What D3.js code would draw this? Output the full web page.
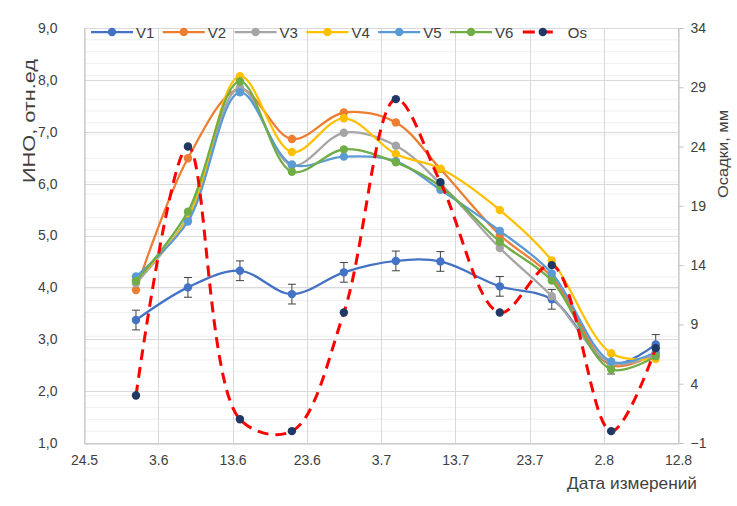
<!DOCTYPE html>
<html><head><meta charset="utf-8">
<script src="https://cdn.jsdelivr.net/npm/d3@7/dist/d3.min.js"></script>
<style>
body{margin:0;background:#fff}
svg{display:block}
text{font-family:"Liberation Sans",Arial,sans-serif;fill:#404040}
</style>
</head><body>
<svg id="chart" width="737" height="506"></svg>
<script>
// ---- data ----
const dates = ["2021-05-31","2021-06-07","2021-06-14","2021-06-21","2021-06-28","2021-07-05","2021-07-11","2021-07-19","2021-07-26","2021-08-03","2021-08-09"];
const seriesNames = ["V1","V2","V3","V4","V5","V6"];
const v1 = [3.37, 4.00, 4.32, 3.87, 4.29, 4.51, 4.50, 4.02, 3.77, 2.52, 2.90];
const v1Err = [0.19, 0.19, 0.19, 0.19, 0.19, 0.19, 0.19, 0.19, 0.19, 0.19, 0.19];
const v2 = [3.95, 6.49, 7.82, 6.86, 7.37, 7.18, 6.28, 5.01, 4.20, 2.50, 2.72];
const v3 = [4.08, 5.36, 7.85, 6.35, 6.98, 6.73, 6.00, 4.76, 3.83, 2.54, 2.70];
const v4 = [4.15, 5.33, 8.07, 6.61, 7.26, 6.57, 6.29, 5.49, 4.52, 2.73, 2.62];
const v5 = [4.21, 5.27, 7.76, 6.37, 6.52, 6.43, 5.88, 5.09, 4.27, 2.57, 2.75];
const v6 = [4.12, 5.46, 7.97, 6.23, 6.66, 6.41, 5.95, 4.88, 4.13, 2.42, 2.67];
const osName = "Os";
const os = [3, 24, 1, 0, 10, 28, 21, 10, 14, 0, 7];
const xTickLabels = ["24.5","3.6","13.6","23.6","3.7","13.7","23.7","2.8","12.8"];
const leftTicks = [1,2,3,4,5,6,7,8,9];
const rightTicks = [-1,4,9,14,19,24,29,34];
const colors = ["#4472C4","#ED7D31","#A5A5A5","#FFC000","#5B9BD5","#70AD47"];
const osLineColor = "#FF0000", osMarkColor = "#203864";

// ---- layout ----
const L = 84, R = 678, T = 28, B = 443;
const svg = d3.select("#chart");
const parse = d3.utcParse("%Y-%m-%d");
const start = parse("2021-05-24");
const xTicks = xTickLabels.map((_, i) => d3.utcDay.offset(start, 10 * i));
const x = d3.scaleUtc().domain([xTicks[0], xTicks[xTicks.length - 1]]).range([L, R]);
const y = d3.scaleLinear().domain([1, 9]).range([B, T]);
const y2 = d3.scaleLinear().domain([-1, 34]).range([B, T]);

// minor gridlines (right axis minor unit = 1)
const minor = d3.range(-1, 34.01, 1).filter(v => (v + 1) % 5 !== 0);
svg.append("g").selectAll("line").data(minor).join("line")
  .attr("x1", L).attr("x2", R).attr("y1", d => y2(d)).attr("y2", d => y2(d))
  .attr("stroke", "#EFEFEF").attr("stroke-width", 1);
// major gridlines
svg.append("g").selectAll("line").data(leftTicks).join("line")
  .attr("x1", L).attr("x2", R).attr("y1", d => Math.round(y(d)) + 0.5).attr("y2", d => Math.round(y(d)) + 0.5)
  .attr("stroke", "#D9D9D9").attr("stroke-width", 1);
svg.append("g").selectAll("line").data(xTicks).join("line")
  .attr("y1", T).attr("y2", B).attr("x1", d => Math.round(x(d)) + 0.5).attr("x2", d => Math.round(x(d)) + 0.5)
  .attr("stroke", "#D9D9D9").attr("stroke-width", 1);

// axes
const fmtComma = d => d3.format(".1f")(d).replace(".", ",");
const gl = svg.append("g").attr("transform", `translate(${L + 0.5},0)`)
  .call(d3.axisLeft(y).tickValues(leftTicks).tickFormat(fmtComma).tickSize(0).tickPadding(27));
gl.select(".domain").attr("stroke", "#BFBFBF");
const gr = svg.append("g").attr("transform", `translate(${R + 0.5},0)`)
  .call(d3.axisRight(y2).tickValues(rightTicks).tickSize(5).tickPadding(7));
gr.select(".domain").attr("stroke", "#BFBFBF");
gr.selectAll(".tick line").attr("stroke", "#BFBFBF");
const gb = svg.append("g").attr("transform", `translate(0,${B + 0.5})`)
  .call(d3.axisBottom(x).tickValues(xTicks).tickFormat((d, i) => xTickLabels[i]).tickSize(0).tickPadding(12));
gb.select(".domain").attr("stroke", "#BFBFBF");
[gl, gr, gb].forEach(g => g.selectAll("text").attr("font-size", 14).attr("fill", "#404040")
  .attr("font-family", '"Liberation Sans",Arial,sans-serif'));

// axis titles
svg.append("text").attr("transform", `translate(29,121) rotate(-90)`)
  .attr("text-anchor", "middle").attr("dominant-baseline", "central").attr("font-size", 16)
  .attr("textLength", 124).attr("lengthAdjust", "spacingAndGlyphs")
  .text("ИНО, отн.ед");
svg.append("text").attr("transform", `translate(722,154) rotate(-90)`)
  .attr("text-anchor", "middle").attr("dominant-baseline", "central").attr("font-size", 15)
  .attr("textLength", 88).attr("lengthAdjust", "spacingAndGlyphs")
  .text("Осадки, мм");
svg.append("text").attr("x", 697).attr("y", 489).attr("text-anchor", "end").attr("font-size", 17)
  .attr("textLength", 130).attr("lengthAdjust", "spacingAndGlyphs")
  .text("Дата измерений");

// series
const curve = d3.curveCatmullRom.alpha(0.5);
const allV = [v1, v2, v3, v4, v5, v6];
const dts = dates.map(parse);
const lineGen = d3.line().x(d => x(d.date)).y(d => y(d.v)).curve(curve);
allV.forEach((vals, si) => {
  const pts = vals.map((v, i) => ({date: dts[i], v}));
  const g = svg.append("g");
  g.append("path").datum(pts).attr("d", lineGen).attr("fill", "none")
    .attr("stroke", colors[si]).attr("stroke-width", 2.25);
  if (si === 0) {
    const eb = g.append("g").attr("stroke", "#404040").attr("stroke-width", 1);
    pts.forEach((p, i) => {
      const cx = x(p.date), yt = y(p.v + v1Err[i]), yb = y(p.v - v1Err[i]);
      eb.append("line").attr("x1", cx).attr("x2", cx).attr("y1", yt).attr("y2", yb);
      eb.append("line").attr("x1", cx - 4).attr("x2", cx + 4).attr("y1", yt).attr("y2", yt);
      eb.append("line").attr("x1", cx - 4).attr("x2", cx + 4).attr("y1", yb).attr("y2", yb);
    });
  }
  g.selectAll("circle").data(pts).join("circle")
    .attr("cx", d => x(d.date)).attr("cy", d => y(d.v)).attr("r", 4.2).attr("fill", colors[si]);
});
// Os on secondary axis
const osPts = os.map((v, i) => ({date: dts[i], v}));
const osLine = d3.line().x(d => x(d.date)).y(d => y2(d.v)).curve(curve);
svg.append("path").datum(osPts).attr("d", osLine).attr("fill", "none")
  .attr("stroke", osLineColor).attr("stroke-width", 3).attr("stroke-dasharray", "11,7");
svg.append("g").selectAll("circle").data(osPts).join("circle")
  .attr("cx", d => x(d.date)).attr("cy", d => y2(d.v)).attr("r", 4.2).attr("fill", osMarkColor);

// legend
const leg = svg.append("g");
const legY = 32, legX0 = 112, legStep = 71.8;
seriesNames.forEach((n, i) => {
  const cx = legX0 + i * legStep;
  leg.append("line").attr("x1", cx - 21).attr("x2", cx + 21).attr("y1", legY).attr("y2", legY)
    .attr("stroke", colors[i]).attr("stroke-width", 2.25);
  leg.append("circle").attr("cx", cx).attr("cy", legY).attr("r", 4.2).attr("fill", colors[i]);
  leg.append("text").attr("x", cx + 24).attr("y", legY).attr("dominant-baseline", "central")
    .attr("font-size", 15).text(n);
});
{
  const cx = legX0 + 6 * legStep;
  leg.append("line").attr("x1", cx - 20).attr("x2", cx + 13).attr("y1", legY).attr("y2", legY)
    .attr("stroke", osLineColor).attr("stroke-width", 3).attr("stroke-dasharray", "12,6");
  leg.append("circle").attr("cx", cx).attr("cy", legY).attr("r", 4.2).attr("fill", osMarkColor);
  leg.append("text").attr("x", cx + 25).attr("y", legY).attr("dominant-baseline", "central")
    .attr("font-size", 15).text(osName);
}
</script>
</body></html>
